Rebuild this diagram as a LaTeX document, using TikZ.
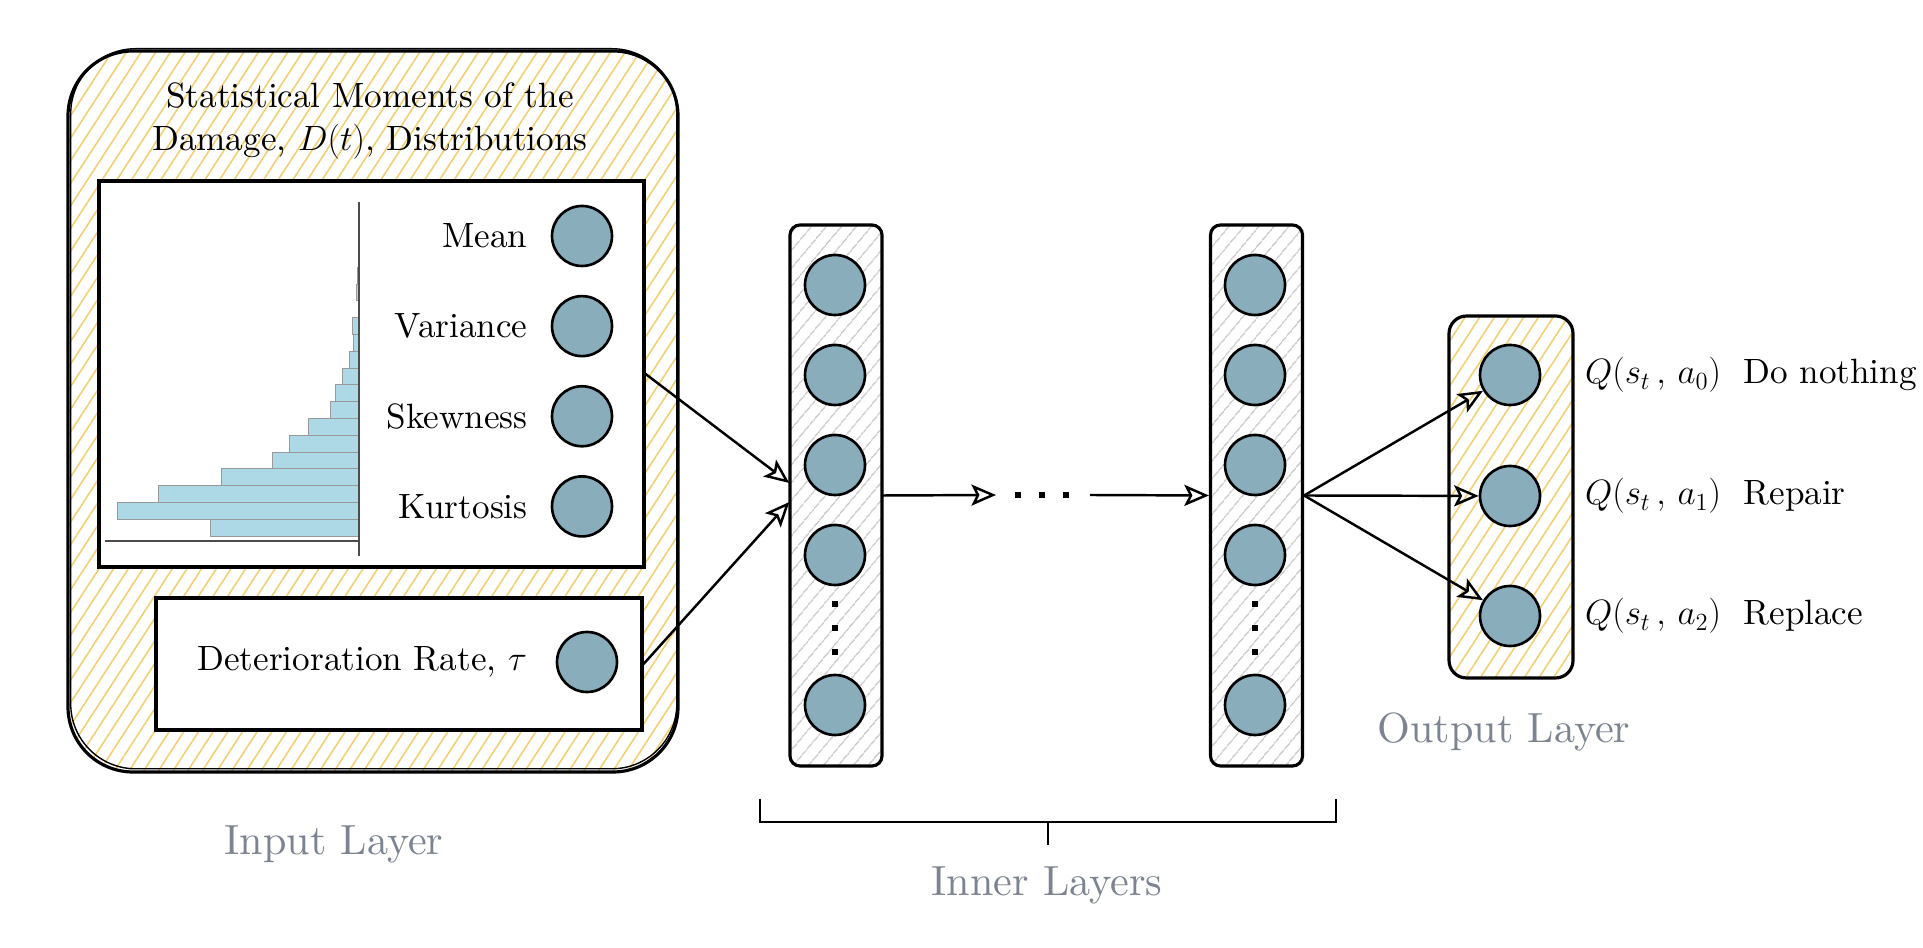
\RequirePackage{fix-cm}
\documentclass[tikz,border=0pt]{standalone}
\usepackage{amsmath}
\usepackage{fontspec}
\setmainfont{lmroman10}[Extension=.otf, UprightFont=*-regular,
  ItalicFont=*-italic, BoldFont=*-bold]
\usepackage{xcolor}
\usetikzlibrary{positioning}
\usetikzlibrary{arrows.meta}
\usetikzlibrary{patterns.meta}
\usetikzlibrary{calc}

\definecolor{neuronblue}{HTML}{8AADBC}
\definecolor{hatchyellow}{HTML}{F2CF72}
\definecolor{hatchgray}{HTML}{C6C6C6}
\definecolor{barblue}{HTML}{ADD8E6}
\definecolor{labelgray}{HTML}{7D8491}

\tikzset{
  neuron/.style={circle, draw, line width=1.5pt, fill=neuronblue,
    minimum size=1.2cm, inner sep=0pt},
  yellowhatch/.style={draw, line width=1.8pt,
    pattern={Lines[angle=57, distance=7pt, line width=0.9pt]},
    pattern color=hatchyellow},
  grayhatch/.style={draw, line width=1.8pt, rounded corners=0.2cm,
    pattern={Lines[angle=50, distance=6.5pt, line width=0.8pt]},
    pattern color=hatchgray},
  whitebox/.style={draw, line width=1.8pt, fill=white},
  histbar/.style={fill=barblue, draw=gray!80, line width=0.5pt},
  dotsq/.style={fill=black, minimum size=0.11cm, inner sep=0pt},
  conn/.style={line width=1.4pt,
    -{Stealth[open, length=14pt, width=12pt, inset=3pt, line width=1.4pt]}},
  layerlabel/.style={text=labelgray, font=\fontsize{24}{29}\selectfont}
}

\begin{document}
\begin{tikzpicture}[font=\fontsize{20}{24}\selectfont]
  \useasboundingbox (0,0) rectangle (38.46,18.94);

  % input layer
  \node[yellowhatch, rounded corners=1.3cm, minimum width=12.2cm,
    minimum height=14.42cm] (inbox) at (7.46,10.71) {};
  \draw[line width=0.8pt, rounded corners=1.3cm]
    ($(inbox.south west)+(0.07,0.08)$) rectangle ($(inbox.north east)+(-0.04,0.03)$);
  \node[align=center] (title) at (7.4,16.52)
    {Statistical Moments of the\\Damage, $D(t)$, Distributions};

  \node[whitebox, minimum width=10.9cm, minimum height=7.72cm] (histbox) at (7.43,11.46) {};
  \foreach \w [count=\i from 0] in {2.98,4.84,4.02,2.76,1.74,1.40,1.02,0.58,0.48,
      0.34,0.20,0.12,0.14,0,0.06,0.04,0.02}
    \draw[histbar] ({7.18-\w},{8.22+0.336*\i}) rectangle (7.18,{8.556+0.336*\i});
  \draw[black!70, line width=0.6pt] (7.18,14.9) -- (7.18,7.82);
  \draw[black!70, line width=0.6pt] (2.1,8.12) -- (7.18,8.12);

  \node[neuron] (mean) at (11.64,14.22) {};
  \node[neuron, below=0.55cm of mean] (var) {};
  \node[neuron, below=0.55cm of var] (skew) {};
  \node[neuron, below=0.55cm of skew] (kurt) {};
  \node[left=0.34cm of mean] (meanlab) {Mean};
  \node[left=0.34cm of var] (varlab) {Variance};
  \node[left=0.34cm of skew] (skewlab) {Skewness};
  \node[left=0.34cm of kurt] (kurtlab) {Kurtosis};

  \node[whitebox, minimum width=9.72cm, minimum height=2.64cm] (ratebox) at (7.98,5.66) {};
  \node[neuron] (rate) at (11.74,5.7) {};
  \node[left=0.45cm of rate] (ratelab) {Deterioration Rate, $\tau$};

  \node[layerlabel] (inlab) at (6.68,2.06) {Input Layer};

  % inner layers
  \node[grayhatch, minimum width=1.84cm, minimum height=10.82cm] (hid1) at (16.72,9.03) {};
  \node[grayhatch, minimum width=1.84cm, minimum height=10.82cm] (hid2) at (25.13,9.03) {};
  \foreach \y [count=\k] in {13.24,11.44,9.64,7.84,4.84} {
    \node[neuron] (h1n\k) at (16.7,\y) {};
    \node[neuron] (h2n\k) at (25.1,\y) {};
  }
  \foreach \y in {6.86,6.38,5.9} {
    \node[dotsq] at (16.7,\y) {};
    \node[dotsq] at (25.1,\y) {};
  }
  \foreach \x in {20.36,20.84,21.32}
    \node[dotsq] at (\x,9.04) {};
  \coordinate (gapin) at (19.92,9.04);
  \coordinate (gapout) at (21.8,9.04);

  \draw[line width=1.4pt] (15.2,2.96) -- (15.2,2.5) -- (26.72,2.5) -- (26.72,2.96);
  \draw[line width=1.4pt] (20.96,2.5) -- (20.96,2.04);
  \node[layerlabel] (hidlab) at (20.94,1.24) {Inner Layers};

  % output layer
  \node[yellowhatch, rounded corners=0.35cm, minimum width=2.48cm,
    minimum height=7.24cm] (outbox) at (30.22,9.0) {};
  \node[neuron] (q0) at (30.2,11.44) {};
  \node[neuron] (q1) at (30.2,9.02) {};
  \node[neuron] (q2) at (30.2,6.62) {};
  \node[right=0.75cm of q0] (q0lab) {$Q(s_t\,,\,a_0)$};
  \node[right=0.75cm of q1] (q1lab) {$Q(s_t\,,\,a_1)$};
  \node[right=0.75cm of q2] (q2lab) {$Q(s_t\,,\,a_2)$};
  \node[right=0.2cm of q0lab] (act0) {Do nothing};
  \node[right=0.2cm of q1lab] (act1) {Repair};
  \node[right=0.2cm of q2lab] (act2) {Replace};
  \node[layerlabel] (outlab) at (30.08,4.3) {Output Layer};

  % connections
  \path[conn] (histbox.east) edge ([yshift=0.25cm]hid1.west);
  \path[conn] (ratebox.east) edge ([yshift=-0.13cm]hid1.west);
  \path[conn] (hid1.east) edge (gapin);
  \path[conn] (gapout) edge (hid2.west);
  \path[conn] (hid2.east) edge (q0);
  \path[conn] (hid2.east) edge (q1);
  \path[conn] (hid2.east) edge (q2);
\end{tikzpicture}
\end{document}
